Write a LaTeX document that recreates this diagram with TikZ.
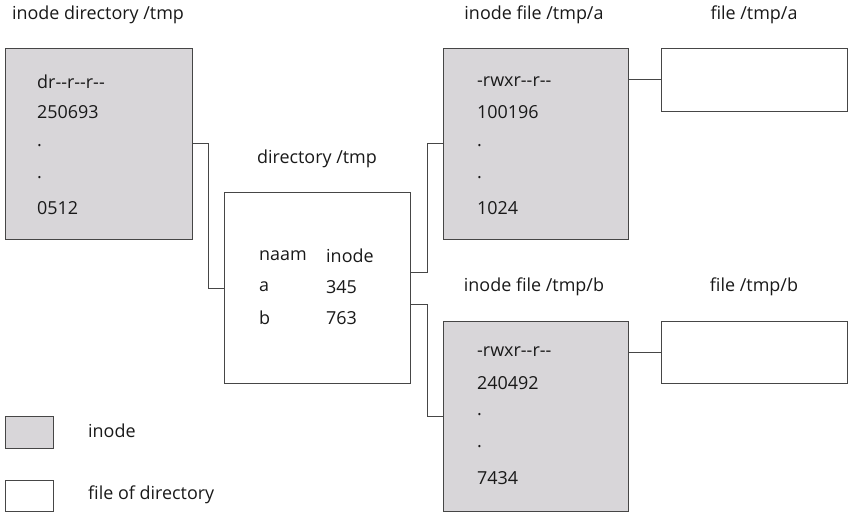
\documentclass[tikz,border=0pt]{standalone}
\usepackage{fontspec}
\setmainfont{Open Sans}
\definecolor{linegray}{RGB}{70,70,70}
\definecolor{inodefill}{RGB}{216,214,217}
\definecolor{ink}{RGB}{25,25,25}
\begin{document}
\begin{tikzpicture}[x=1bp,y=-1bp,
  font=\fontsize{18}{20}\selectfont,
  box/.style={draw=linegray,line width=0.9bp,rectangle,anchor=north west,inner sep=0pt},
  inodebox/.style={box,fill=inodefill},
  filebox/.style={box,fill=white},
  lbl/.style={anchor=center,inner sep=0pt,text=ink},
  entry/.style={anchor=west,inner sep=0pt,text=ink},
  link/.style={draw=linegray,line width=0.9bp}]
\useasboundingbox (0,0) rectangle (848,512);

% inode of the directory
\node[lbl] (tdir) at (98,15) {inode directory /tmp};
\node[inodebox,minimum width=187bp,minimum height=191bp] (ind) at (5,48) {};
\node[entry] (d1) at (37,82) {dr-{}-r-{}-r-{}-};
\node[entry] (d2) at (37,112) {250693};
\node[entry] (d3) at (37,146) {.};
\node[entry] (d4) at (37,178) {.};
\node[entry] (d5) at (37,208) {0512};

% directory contents
\node[lbl] (tdc) at (317,159) {directory /tmp};
\node[filebox,minimum width=186bp,minimum height=191bp] (dir) at (224,192) {};
\node[entry] (c1) at (259,256) {naam};
\node[entry] (c2) at (326,256) {inode};
\node[entry] (c3) at (259,287) {a};
\node[entry] (c4) at (326,287) {345};
\node[entry] (c5) at (259,318) {b};
\node[entry] (c6) at (326,318) {763};

% inode of /tmp/a
\node[lbl] (tia) at (534,15) {inode file /tmp/a};
\node[inodebox,minimum width=185bp,minimum height=191bp] (ina) at (443,48) {};
\node[entry] (a1) at (477,82) {-rwxr-{}-r-{}-};
\node[entry] (a2) at (477,112) {100196};
\node[entry] (a3) at (477,146) {.};
\node[entry] (a4) at (477,178) {.};
\node[entry] (a5) at (477,208) {1024};

% file /tmp/a
\node[lbl] (tfa) at (754,15) {file /tmp/a};
\node[filebox,minimum width=186bp,minimum height=63bp] (fa) at (661,48) {};

% inode of /tmp/b
\node[lbl] (tib) at (534,287) {inode file /tmp/b};
\node[inodebox,minimum width=185bp,minimum height=190bp] (inb) at (443,321) {};
\node[entry] (b1) at (477,352) {-rwxr-{}-r-{}-};
\node[entry] (b2) at (477,383) {240492};
\node[entry] (b3) at (477,415) {.};
\node[entry] (b4) at (477,447) {.};
\node[entry] (b5) at (477,478) {7434};

% file /tmp/b
\node[lbl] (tfb) at (754,287) {file /tmp/b};
\node[filebox,minimum width=186bp,minimum height=62bp] (fb) at (661,321) {};

% legend
\node[inodebox,minimum width=48bp,minimum height=32bp] (lg1) at (5,416) {};
\node[entry] (lt1) at (88,431) {inode};
\node[filebox,minimum width=48bp,minimum height=31bp] (lg2) at (5,480) {};
\node[entry] (lt2) at (88,495) {file of directory};

% connectors
\draw[link] (ind.east) -- ++(16,0) |- (dir.west);
\draw[link] ([yshift=15.5bp]dir.east) -- ++(17,0) |- (ina.west);
\draw[link] ([yshift=-16.5bp]dir.east) -- ++(17,0) |- (inb.west);
\draw[link] (fa.west -| ina.east) -- (fa.west);
\draw[link] (fb.west -| inb.east) -- (fb.west);
\end{tikzpicture}
\end{document}
